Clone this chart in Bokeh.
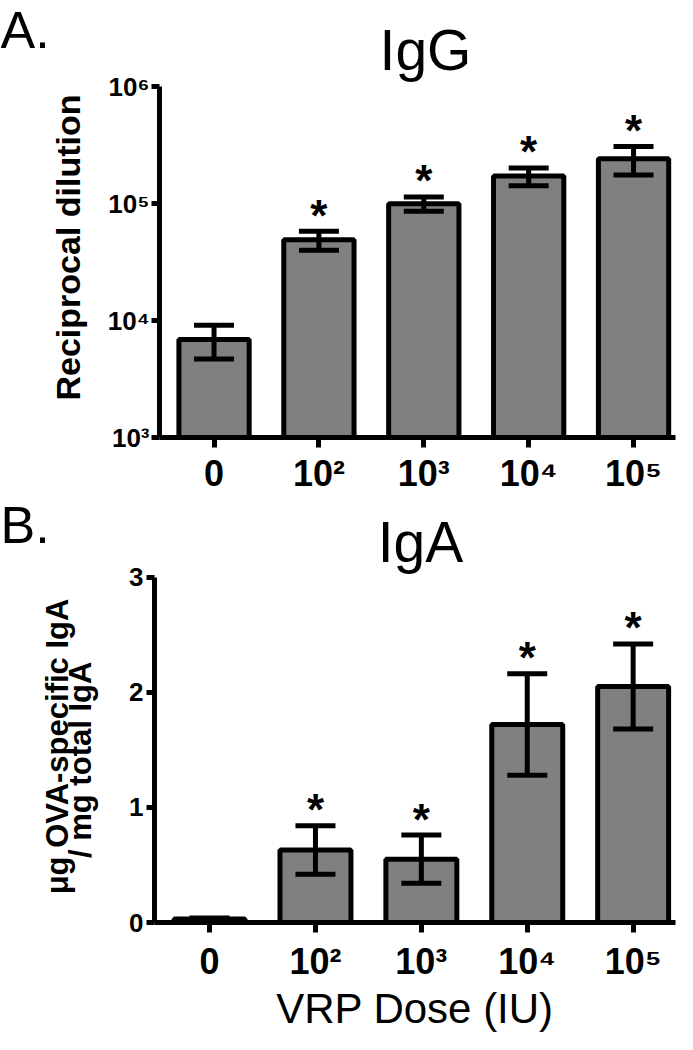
import math
from bokeh.plotting import figure
from bokeh.models import ColumnDataSource, Whisker, TeeHead, FixedTicker, Range1d, Label
from bokeh.layouts import column, row
from bokeh.core.properties import value
from bokeh.embed import file_html
from bokeh.resources import INLINE

# ---- data ----
dose_labels = ["0", "10\u00b2", "10\u00b3", "10\u2074", "10\u2075"]
dose_pos = [0, 1, 2, 3, 4]
igg_mean = [6900, 49000, 100000, 172000, 242000]
igg_err = [2200, 9000, 14000, 30000, 66000]
igg_sig = [False, True, True, True, True]
iga_mean = [0.03, 0.63, 0.55, 1.72, 2.05]
iga_err = [0.01, 0.21, 0.21, 0.44, 0.37]
iga_sig = [False, True, True, True, True]
igg_ticks = [1e3, 1e4, 1e5, 1e6]
igg_tick_labels = ["10\u00b3", "10\u2074", "10\u2075", "10\u2076"]
iga_ticks = [0, 1, 2, 3]

FONT = "Liberation Sans"
TOTAL_W = 677
LAB_W = 104
W = TOTAL_W - LAB_W
LEFT = 154 - LAB_W
RIGHT = 2
XR = (-0.52, 4.40)
TXT_SHIFT = 20  # compensation for Label baseline placement


def label_fig(h, labels):
    # companion strip holding the panel letter and the y-axis title
    f = figure(width=LAB_W, height=h, x_range=Range1d(0, 1), y_range=Range1d(0, 1),
               output_backend="svg", toolbar_location=None,
               x_axis_location=None, y_axis_location=None, min_border=0)
    f.grid.visible = False
    f.outline_line_color = None
    for lab in labels:
        f.add_layout(lab)
    return f


def base_style(p, ytick_size, ytick_standoff, xstand):
    p.grid.visible = False
    p.outline_line_color = None
    for ax in (p.xaxis[0], p.yaxis[0]):
        ax.axis_line_width = 5
        ax.axis_line_color = "black"
        ax.major_tick_line_width = 5
        ax.major_tick_line_color = "black"
        ax.major_tick_in = 0
        ax.minor_tick_line_color = None
        ax.major_label_text_font = FONT
        ax.major_label_text_font_style = "bold"
        ax.major_label_text_color = "black"
    xa = p.xaxis[0]
    xa.ticker = FixedTicker(ticks=dose_pos)
    xa.major_label_overrides = {k: v for k, v in zip(dose_pos, dose_labels)}
    xa.major_tick_out = 10
    xa.major_label_text_font_size = "36px"
    xa.major_label_standoff = xstand
    ya = p.yaxis[0]
    ya.major_tick_out = 8
    ya.major_label_text_font_size = ytick_size
    ya.major_label_standoff = ytick_standoff


def bars(p, mean, err, sig, bottom):
    lower = [m - e for m, e in zip(mean, err)]
    upper = [m + e for m, e in zip(mean, err)]
    src = ColumnDataSource(dict(x=dose_pos, top=mean, lower=lower, upper=upper,
                                bottom=[bottom] * len(mean)))
    p.vbar(x="x", top="top", bottom="bottom", width=0.67, source=src,
           fill_color="#808080", line_color="black", line_width=5)
    w = Whisker(source=src, base="x", upper="upper", lower="lower",
                line_width=5, line_color="black", level="overlay",
                upper_head=TeeHead(size=40, line_width=5, line_color="black"),
                lower_head=TeeHead(size=40, line_width=5, line_color="black"))
    p.add_layout(w)
    sx = [x for x, s in zip(dose_pos, sig) if s]
    sy = [u for u, s in zip(upper, sig) if s]
    ssrc = ColumnDataSource(dict(x=sx, y=sy, t=["*"] * len(sx)))
    p.text(x="x", y="y", text="t", source=ssrc, text_align="center",
           text_baseline="alphabetic", text_font=value(FONT), y_offset=-16,
           text_font_style="bold", text_font_size="44px", text_color="black")


def title_label(text, y):
    return Label(x=266, y=y + TXT_SHIFT, x_units="screen", y_units="screen", text=text,
                 text_font=FONT, text_font_size="57px", text_color="black",
                 text_align="center", text_baseline="alphabetic")


def letter_label(text, y):
    return Label(x=0, y=y + TXT_SHIFT, x_units="screen", y_units="screen", text=text,
                 text_font=FONT, text_font_size="52px", text_color="black",
                 text_baseline="alphabetic")


def vlabel(text, x, y, size):
    return Label(x=x, y=y, x_units="screen", y_units="screen", text=text,
                 angle=math.pi / 2, text_font=FONT, text_font_size=size,
                 text_font_style="bold", text_color="black",
                 text_align="center", text_baseline="middle")


# ---- panel A (pixel layout: frame top 0, 10^6 at 87, 10^3 at 441) ----
HA = 496
A_TOP, A_Y6, A_Y3 = 0, 87, 441
dec_px = (A_Y3 - A_Y6) / 3.0
ya_top = 10 ** (6 + (A_Y6 - A_TOP) / dec_px)
pa = figure(width=W, height=HA, y_axis_type="log",
            x_range=Range1d(*XR), y_range=Range1d(1e3, ya_top),
            output_backend="svg", toolbar_location=None,
            min_border_left=LEFT, min_border_right=RIGHT,
            min_border_top=A_TOP, min_border_bottom=HA - A_Y3)
base_style(pa, "26px", 2, 5)
pa.yaxis[0].bounds = (1e3, 1e6)
pa.yaxis[0].ticker = FixedTicker(ticks=igg_ticks)
pa.yaxis[0].major_label_overrides = {k: v for k, v in zip(igg_ticks, igg_tick_labels)}
bars(pa, igg_mean, igg_err, igg_sig, 1e3)
pa.add_layout(title_label("IgG", A_Y3 - 73))
labA = label_fig(HA, [
    letter_label("A.", A_Y3 - 53),
    vlabel("Reciprocal dilution", 67, A_Y3 - 251, "34px"),
])

# ---- panel B (page offset HA; 3 at 578, 0 at 929) ----
HB = 1034 - HA
B_TOP, B_Y3, B_Y0 = 0, 578 - HA, 929 - HA
unit_px = (B_Y0 - B_Y3) / 3.0
yb_top = 3 + (B_Y3 - B_TOP) / unit_px
pb = figure(width=W, height=HB,
            x_range=Range1d(*XR), y_range=Range1d(0, yb_top),
            output_backend="svg", toolbar_location=None,
            min_border_left=LEFT, min_border_right=RIGHT,
            min_border_top=B_TOP, min_border_bottom=HB - B_Y0)
base_style(pb, "26px", 3, 8)
pb.yaxis[0].bounds = (0, 3)
pb.yaxis[0].ticker = FixedTicker(ticks=iga_ticks)
pb.xaxis[0].axis_label = "VRP Dose (IU)"
pb.xaxis[0].axis_label_text_font = FONT
pb.xaxis[0].axis_label_text_font_style = "normal"
pb.xaxis[0].axis_label_text_font_size = "42px"
pb.xaxis[0].axis_label_text_color = "black"
pb.xaxis[0].axis_label_standoff = 0
bars(pb, iga_mean, iga_err, iga_sig, 0)
pb.add_layout(title_label("IgA", B_Y0 - (568 - HA)))
labB = label_fig(HB, [
    letter_label("B.", B_Y0 - (HA + 55 - HA)),
    vlabel("\u03bcg OVA-specific IgA", 57, B_Y0 - (753 - HA), "31px"),
    vlabel("/ mg total  IgA", 80, B_Y0 - (762 - HA), "31px"),
])

layout = column(row(labA, pa), row(labB, pb))
open("out.html", "w").write(file_html(layout, INLINE))
